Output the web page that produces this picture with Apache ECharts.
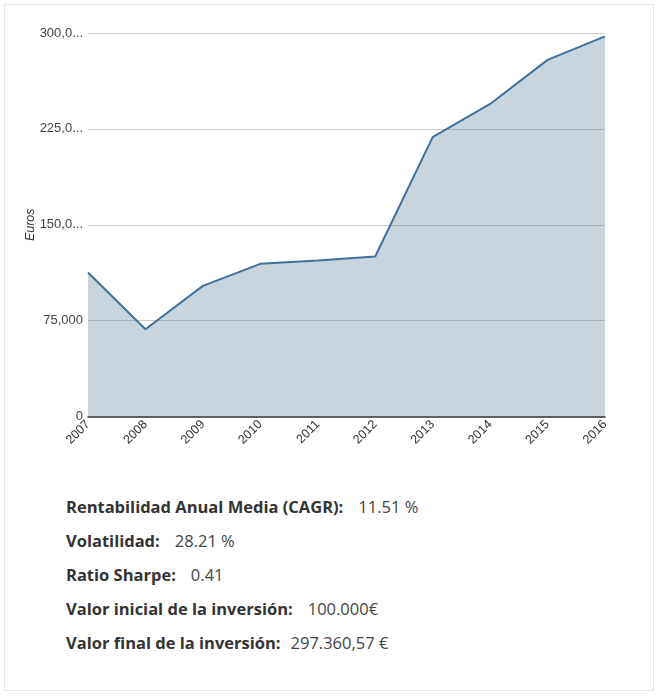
<!DOCTYPE html>
<html>
<head>
<meta charset="utf-8">
<script src="https://cdn.jsdelivr.net/npm/echarts@6/dist/echarts.min.js"></script>
<style>
html,body{margin:0;padding:0;background:#fff;}
#card{position:absolute;left:4px;top:4px;width:650px;height:687px;border:1px solid #e6e6e6;box-sizing:border-box;}
#chart{position:absolute;left:0;top:0;width:659px;height:470px;}
.stats{position:absolute;left:66px;top:494px;font-family:"Open Sans",sans-serif;font-size:16.5px;color:#333;}
.row{height:34px;line-height:26px;white-space:nowrap;}
.row b{font-weight:700;color:#333;}
.row span{color:#444;}
</style>
</head>
<body>
<div id="card"></div>
<div id="chart"></div>
<div class="stats" id="stats"></div>
<script>
const years = ['2007','2008','2009','2010','2011','2012','2013','2014','2015','2016'];
const values = [112600, 68300, 102200, 119400, 122000, 125200, 218500, 244500, 279000, 297360.57];
const yTicks = {min: 0, max: 300000, interval: 75000};
const statLabels = ['Rentabilidad Anual Media (CAGR):', 'Volatilidad:', 'Ratio Sharpe:', 'Valor inicial de la inversión:', 'Valor final de la inversión:'];
const statValues = ['11.51 %', '28.21 %', '0.41', '100.000€', '297.360,57 €'];
const statGaps = [15, 15, 15, 15, 10];

const chart = echarts.init(document.getElementById('chart'), null, {renderer: 'canvas'});
chart.setOption({
  animation: false,
  grid: {left: 88, right: 54, top: 33, height: 383.5},
  xAxis: {
    type: 'category',
    data: years,
    boundaryGap: false,
    axisLine: {lineStyle: {color: '#333', width: 1.5}},
    axisTick: {show: false},
    axisLabel: {rotate: 45, color: '#333', fontSize: 12.5, fontFamily: 'Liberation Sans, Arial', margin: 6}
  },
  yAxis: {
    type: 'value',
    min: yTicks.min, max: yTicks.max, interval: yTicks.interval,
    name: 'Euros',
    nameLocation: 'middle',
    nameGap: 51,
    nameMoveOverlap: false,
    nameTextStyle: {fontStyle: 'italic', color: '#333', fontSize: 12.5, fontFamily: 'Liberation Sans, Arial'},
    axisLine: {show: false},
    axisTick: {show: false},
    splitLine: {lineStyle: {color: '#cccccc', width: 1}},
    axisLabel: {
      color: '#444', fontSize: 13, fontFamily: 'Liberation Sans, Arial', margin: 5,
      width: 46, overflow: 'truncate', ellipsis: '...',
      formatter: v => v.toLocaleString('en-US')
    }
  },
  series: [{
    type: 'line',
    data: values,
    symbol: 'none',
    lineStyle: {color: '#41709a', width: 2},
    areaStyle: {color: '#4a7396', opacity: 0.3}
  }]
});

const stats = document.getElementById('stats');
statLabels.forEach((l, i) => {
  const d = document.createElement('div');
  d.className = 'row';
  const b = document.createElement('b'); b.textContent = l;
  const s = document.createElement('span'); s.textContent = statValues[i]; s.style.marginLeft = statGaps[i] + 'px';
  d.appendChild(b); d.appendChild(s);
  stats.appendChild(d);
});
</script>
</body>
</html>
